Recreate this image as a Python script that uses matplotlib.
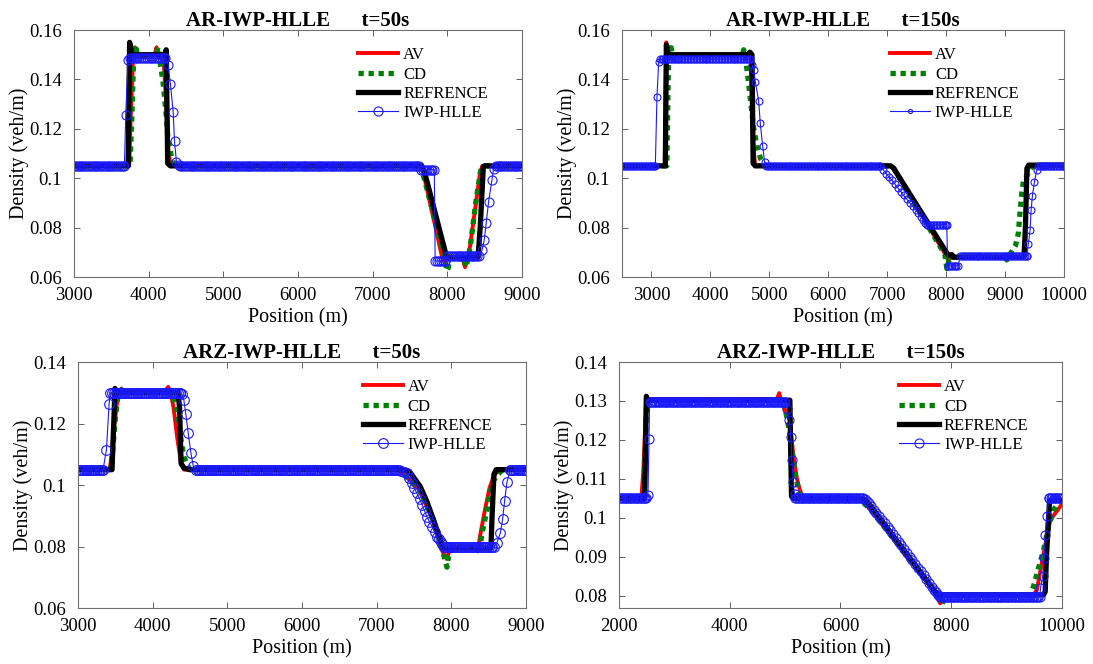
import numpy as np
import matplotlib.pyplot as plt
from matplotlib.ticker import FuncFormatter

plt.rcParams['font.family'] = ['Liberation Serif', 'DejaVu Serif']

# ---------------- AR model, t = 50 s ----------------
ar50_av_x = [3000, 3740, 3760, 3790, 3815, 3840, 4080, 4105, 4130, 4200, 4235, 4265, 4300,
             7640, 7680, 7930, 7960, 7990, 8010, 8200, 8236, 8270, 8303, 8370, 8437, 8470, 9000]
ar50_av_y = [0.105, 0.105, 0.125, 0.148, 0.153, 0.149, 0.150, 0.153, 0.149, 0.148, 0.130, 0.110, 0.105,
             0.105, 0.102, 0.068, 0.066, 0.067, 0.068, 0.068, 0.064, 0.068, 0.0723, 0.0871, 0.102, 0.105, 0.105]
ar50_cd_x = [3000, 3750, 3775, 3800, 3827, 3850, 4100, 4127, 4149, 4194, 4229, 4260, 4305, 4350,
             7640, 7690, 7960, 7995, 8015, 8030, 8220, 8250, 8280, 8310, 8380, 8445, 8475, 9000]
ar50_cd_y = [0.105, 0.105, 0.125, 0.150, 0.154, 0.149, 0.150, 0.153, 0.148, 0.1384, 0.1276, 0.1154, 0.1086, 0.105,
             0.105, 0.100, 0.068, 0.0625, 0.064, 0.068, 0.068, 0.064, 0.068, 0.073, 0.090, 0.103, 0.105, 0.105]
ar50_ref_x = [3000, 3725, 3745, 3775, 4215, 4235, 4255, 4290, 7650, 7690, 7991, 8411, 8440, 8482, 8500, 9000]
ar50_ref_y = [0.105, 0.105, 0.155, 0.150, 0.150, 0.152, 0.106, 0.105, 0.105, 0.103, 0.068, 0.068, 0.080, 0.1047, 0.105, 0.105]
ar50_iwp_x = [3000, 3675, 3693, 3724, 3750, 4225, 4260, 4292, 4328, 4346, 4372, 4400, 4425,
              7625, 7650, 7825, 7837, 7975, 8000, 8425, 8463, 8494, 8520, 8552, 8597, 8619, 8650, 9000]
ar50_iwp_y = [0.105, 0.105, 0.1256, 0.1478, 0.1485, 0.1485, 0.146, 0.1381, 0.1269, 0.115, 0.1066, 0.1055, 0.105,
              0.105, 0.1035, 0.1035, 0.0665, 0.0665, 0.0685, 0.0685, 0.0708, 0.0749, 0.0819, 0.0904, 0.0992, 0.1039, 0.105, 0.105]

# ---------------- AR model, t = 150 s ----------------
ar150_av_x = [2500, 3225, 3250, 3275, 4650, 4680, 4720, 4760, 7050, 7110, 7990, 8030, 8080,
              9310, 9340, 9370, 9400, 10000]
ar150_av_y = [0.105, 0.105, 0.155, 0.150, 0.150, 0.149, 0.115, 0.105, 0.105, 0.104, 0.069, 0.067, 0.068,
              0.068, 0.075, 0.100, 0.105, 0.105]
ar150_cd_x = [2500, 3260, 3290, 3320, 3376, 3420, 4540, 4565, 4600, 4640, 4680, 4730, 4790, 4850, 4900, 4950,
              7050, 7110, 7980, 8012, 8050, 8100, 9000, 9028, 9180, 9225, 9254, 9283, 9310, 9424, 9470, 10000]
ar150_cd_y = [0.105, 0.105, 0.150, 0.1546, 0.1472, 0.150, 0.150, 0.152, 0.148, 0.140, 0.1316, 0.1208, 0.1127, 0.108, 0.106, 0.105,
              0.105, 0.104, 0.069, 0.0634, 0.067, 0.068, 0.068, 0.0669, 0.073, 0.0777, 0.0865, 0.094, 0.0986, 0.1033, 0.105, 0.105]
ar150_ref_x = [2500, 3235, 3252, 3280, 4640, 4670, 4705, 4725, 4760, 7060, 7110, 8030, 8100, 8110,
               9320, 9345, 9370, 9400, 10000]
ar150_ref_y = [0.105, 0.105, 0.154, 0.150, 0.150, 0.151, 0.150, 0.106, 0.105, 0.105, 0.104, 0.069, 0.069, 0.068,
               0.068, 0.080, 0.104, 0.1053, 0.1053]
ar150_iwp_x = [2500, 3065, 3093, 3122, 3150, 4675, 4705, 4733, 4762, 4818, 4846, 4886, 4920, 4950,
               6880, 6930, 6983, 7030, 7079, 7130, 7181, 7230, 7277, 7330, 7379, 7430, 7480, 7530, 7576, 7610, 7644, 7672,
               8010, 8025, 8200, 8240,
               9368, 9395, 9424, 9441, 9464, 9498, 9537, 9560, 10000]
ar150_iwp_y = [0.105, 0.105, 0.133, 0.1472, 0.1482, 0.1482, 0.146, 0.144, 0.139, 0.1313, 0.1222, 0.1131, 0.1064, 0.105,
               0.105, 0.1035, 0.1019, 0.1005, 0.0992, 0.0976, 0.0961, 0.0946, 0.0931, 0.0916, 0.0901, 0.0887, 0.0873, 0.0858, 0.0843, 0.0832, 0.0819, 0.0811,
               0.0811, 0.0645, 0.0645, 0.0684,
               0.0684, 0.0735, 0.079, 0.0871, 0.093, 0.0985, 0.1033, 0.105, 0.105]

# ---------------- ARZ model, t = 50 s ----------------
arz50_av_x = [3000, 3420, 3450, 3480, 3536, 3581, 3620, 4150, 4207, 4240, 4280, 4330, 4380, 4420,
              7300, 7360, 7570, 7760, 7880, 7910, 7940, 7975, 8010, 8300, 8351, 8390, 8450, 8510, 8560, 8630, 9000]
arz50_av_y = [0.105, 0.105, 0.109, 0.118, 0.1297, 0.1314, 0.130, 0.130, 0.1319, 0.130, 0.125, 0.115, 0.107, 0.105,
              0.105, 0.1035, 0.0985, 0.088, 0.0785, 0.0768, 0.076, 0.079, 0.080, 0.080, 0.0784, 0.0843, 0.092, 0.099, 0.1025, 0.105, 0.105]
arz50_cd_x = [3000, 3430, 3460, 3500, 3540, 3580, 3620, 4200, 4240, 4270, 4297, 4329, 4356, 4386, 4418, 4453, 4500,
              7300, 7360, 7570, 7760, 7880, 7900, 7940, 7960, 7985, 8010, 8340, 8380, 8410, 8467, 8521, 8566, 8655, 8700, 9000]
arz50_cd_y = [0.105, 0.105, 0.110, 0.122, 0.130, 0.131, 0.130, 0.1305, 0.130, 0.1295, 0.127, 0.1238, 0.1189, 0.1135, 0.1092, 0.107, 0.105,
              0.105, 0.1035, 0.0985, 0.0883, 0.0785, 0.077, 0.0733, 0.0765, 0.0775, 0.080, 0.080, 0.0795, 0.0843, 0.0908, 0.0978, 0.1016, 0.1043, 0.105, 0.105]
arz50_ref_x = [3000, 3455, 3475, 3495, 3520, 4340, 4360, 4380, 4420, 4500, 7310, 7400, 7450, 7583, 7672, 7762, 7851, 7895,
               8530, 8545, 8570, 8600, 9000]
arz50_ref_y = [0.105, 0.105, 0.118, 0.1314, 0.130, 0.130, 0.125, 0.107, 0.1055, 0.105, 0.105, 0.1048, 0.104, 0.0995, 0.0946, 0.0886, 0.0822, 0.0795,
               0.0795, 0.090, 0.1035, 0.105, 0.105]
arz50_iwp_x = [3000, 3335, 3380, 3416, 3434, 4364, 4390, 4417, 4443, 4475, 4511, 4542, 4575,
               7270, 7300, 7330, 7365, 7404, 7435, 7470, 7505, 7538, 7575, 7610, 7640, 7672, 7705, 7740, 7775, 7806, 7835, 7860, 7880, 7900,
               8566, 8610, 8655, 8686, 8713, 8744, 8789, 8800, 9000]
arz50_iwp_y = [0.105, 0.105, 0.1114, 0.1265, 0.130, 0.130, 0.1295, 0.1276, 0.1232, 0.117, 0.1105, 0.1063, 0.105,
               0.105, 0.1048, 0.1045, 0.1042, 0.1038, 0.1022, 0.1005, 0.0989, 0.0973, 0.0954, 0.0935, 0.0916, 0.0897, 0.0881, 0.0865, 0.0848, 0.0832, 0.0823, 0.0815, 0.0808, 0.080,
               0.080, 0.0813, 0.0843, 0.0889, 0.0948, 0.1009, 0.1049, 0.105, 0.105]

# ---------------- ARZ model, t = 150 s ----------------
arz150_av_x = [2000, 2404, 2440, 2480, 2500, 2540, 4850, 4894, 4930, 4990, 5086, 5146, 5206, 5267, 5330,
               6330, 6440, 6520, 7700, 7800, 7850, 7900, 9450, 9500, 9546, 9668, 9789, 10000]
arz150_av_y = [0.105, 0.105, 0.112, 0.126, 0.1305, 0.1305, 0.1305, 0.132, 0.130, 0.128, 0.125, 0.1165, 0.1105, 0.1071, 0.105,
               0.105, 0.1035, 0.1025, 0.081, 0.078, 0.0795, 0.080, 0.080, 0.0805, 0.0814, 0.0908, 0.0994, 0.1035]
arz150_cd_x = [2000, 2440, 2470, 2500, 4960, 5000, 5050, 5100, 5150, 5200, 5250, 5330,
               6330, 6440, 6520, 7720, 7800, 7830, 7870, 7900, 9420, 9485, 9576, 9668, 9758, 9849, 9970, 10000]
arz150_cd_y = [0.105, 0.105, 0.115, 0.130, 0.1302, 0.128, 0.1245, 0.120, 0.1145, 0.110, 0.1065, 0.105,
               0.105, 0.1035, 0.1025, 0.0808, 0.079, 0.0776, 0.079, 0.080, 0.080, 0.0823, 0.087, 0.0917, 0.0977, 0.102, 0.1046, 0.105]
arz150_ref_x = [2000, 2464, 2480, 2494, 2520, 5086, 5100, 5116, 5150, 6352, 6450, 6520, 7720, 7768,
                9668, 9697, 9720, 9776, 10000]
arz150_ref_y = [0.105, 0.105, 0.118, 0.1312, 0.1302, 0.1302, 0.118, 0.1055, 0.105, 0.105, 0.1045, 0.1035, 0.0808, 0.0802,
                0.0802, 0.081, 0.090, 0.1045, 0.1045]
arz150_iwp_x = [2000, 2494, 2524, 2542, 2554, 2575, 4995, 5040, 5074, 5104, 5122, 5146, 5170, 5180,
                6400, 6440, 6480, 6520, 6560, 6605, 6650, 6700, 6750, 6800, 6850, 6900, 6950, 7000, 7050, 7100,
                7150, 7200, 7250, 7300, 7350, 7400, 7450, 7500, 7550, 7600, 7650, 7685, 7720, 7755, 7790, 7800,
                9600, 9612, 9652, 9680, 9697, 9728, 9758, 9775, 10000]
arz150_iwp_y = [0.105, 0.105, 0.1058, 0.1203, 0.1297, 0.1297, 0.1297, 0.128, 0.1252, 0.1208, 0.1148, 0.1093, 0.106, 0.105,
                0.105, 0.1047, 0.1043, 0.1037, 0.103, 0.1021, 0.1013, 0.1004, 0.0995, 0.0986, 0.0977, 0.0968, 0.0958, 0.0948, 0.0938, 0.0929,
                0.092, 0.091, 0.090, 0.0891, 0.0882, 0.0872, 0.0862, 0.0853, 0.0843, 0.0833, 0.0823, 0.0815, 0.0808, 0.0802, 0.0798, 0.0797,
                0.0797, 0.0819, 0.0849, 0.0896, 0.0956, 0.1004, 0.105, 0.105, 0.105]

titles = ['AR-IWP-HLLE      t=50s', 'AR-IWP-HLLE      t=150s',
          'ARZ-IWP-HLLE      t=50s', 'ARZ-IWP-HLLE      t=150s']
labels = ['AV', 'CD', 'REFRENCE', 'IWP-HLLE']


def on_grid(x, y, step=25):
    # the solver stores a value in every cell: repeat flat stretches cell by cell
    xs, ys = [x[0]], [y[0]]
    for i in range(1, len(x)):
        if y[i] == y[i - 1] and x[i] - x[i - 1] > step:
            for xx in np.arange(x[i - 1] + step, x[i], step):
                xs.append(xx)
                ys.append(y[i])
        xs.append(x[i])
        ys.append(y[i])
    return np.array(xs), np.array(ys)


fig = plt.figure(figsize=(10.93, 6.64), dpi=100)
boxes = [[0.0677, 0.5828, 0.4099, 0.3720], [0.5691, 0.5828, 0.4044, 0.3720],
         [0.0714, 0.0843, 0.4099, 0.3705], [0.5663, 0.0843, 0.4053, 0.3705]]
panels = [
    (ar50_av_x, ar50_av_y, ar50_cd_x, ar50_cd_y, ar50_ref_x, ar50_ref_y, ar50_iwp_x, ar50_iwp_y),
    (ar150_av_x, ar150_av_y, ar150_cd_x, ar150_cd_y, ar150_ref_x, ar150_ref_y, ar150_iwp_x, ar150_iwp_y),
    (arz50_av_x, arz50_av_y, arz50_cd_x, arz50_cd_y, arz50_ref_x, arz50_ref_y, arz50_iwp_x, arz50_iwp_y),
    (arz150_av_x, arz150_av_y, arz150_cd_x, arz150_cd_y, arz150_ref_x, arz150_ref_y, arz150_iwp_x, arz150_iwp_y),
]
xlims = [(3000, 9000), (2500, 10000), (3000, 9000), (2000, 10000)]
xticks = [range(3000, 9001, 1000), range(3000, 10001, 1000), range(3000, 9001, 1000), range(2000, 10001, 2000)]
ylims = [(0.06, 0.16), (0.06, 0.16), (0.06, 0.14), (0.0768, 0.14)]
yticks = [np.arange(0.06, 0.161, 0.02), np.arange(0.06, 0.161, 0.02),
          np.arange(0.06, 0.141, 0.02), np.arange(0.08, 0.141, 0.01)]
msizes = [6.5, 5.0, 7.0, 6.5]
leg_x = [0.634, 0.606, 0.635, 0.632]
leg_ms = [1.0, 0.6, 1.0, 1.0]

for k in range(4):
    ax = fig.add_axes(boxes[k])
    avx, avy, cdx, cdy, rfx, rfy, iwx, iwy = panels[k]
    ax.plot(avx, avy, color='red', lw=2.8, label=labels[0])
    ax.plot(cdx, cdy, color='#008000', lw=3.8, linestyle=(0, (1, 0.9)), dash_capstyle='butt', label=labels[1])
    ax.plot(rfx, rfy, color='black', lw=3.8, label=labels[2])
    gx, gy = on_grid(iwx, iwy)
    ax.plot(gx, gy, color='#1a1aff', lw=0.8, marker='o', markersize=msizes[k],
            markerfacecolor='none', markeredgewidth=0.8, label=labels[3])

    ax.set_xlim(*xlims[k])
    ax.set_ylim(*ylims[k])
    ax.set_xticks(list(xticks[k]))
    ax.set_yticks(yticks[k])
    ax.yaxis.set_major_formatter(FuncFormatter(lambda v, p: '%g' % round(v, 3)))
    ax.tick_params(direction='in', top=True, right=True, length=4, width=0.7,
                   color='#606060', labelsize=13.5)
    ax.tick_params(axis='y', pad=8.5)
    ax.tick_params(axis='x', pad=7)
    for s in ax.spines.values():
        s.set_color('#707070')
        s.set_linewidth(0.8)
    ax.set_title(titles[k], fontsize=15, fontweight='bold', pad=3)
    ax.set_xlabel('Position (m)', fontsize=14.5, labelpad=3)
    ax.set_ylabel('Density (veh/m)', fontsize=14.5, labelpad=0)
    ax.legend(loc='upper left', bbox_to_anchor=(leg_x[k], 0.93), frameon=False, fontsize=12,
              handlelength=2.4, handletextpad=0.3, labelspacing=0.2, borderpad=0,
              borderaxespad=0, markerscale=leg_ms[k])

fig.savefig('out.png', dpi=100)
